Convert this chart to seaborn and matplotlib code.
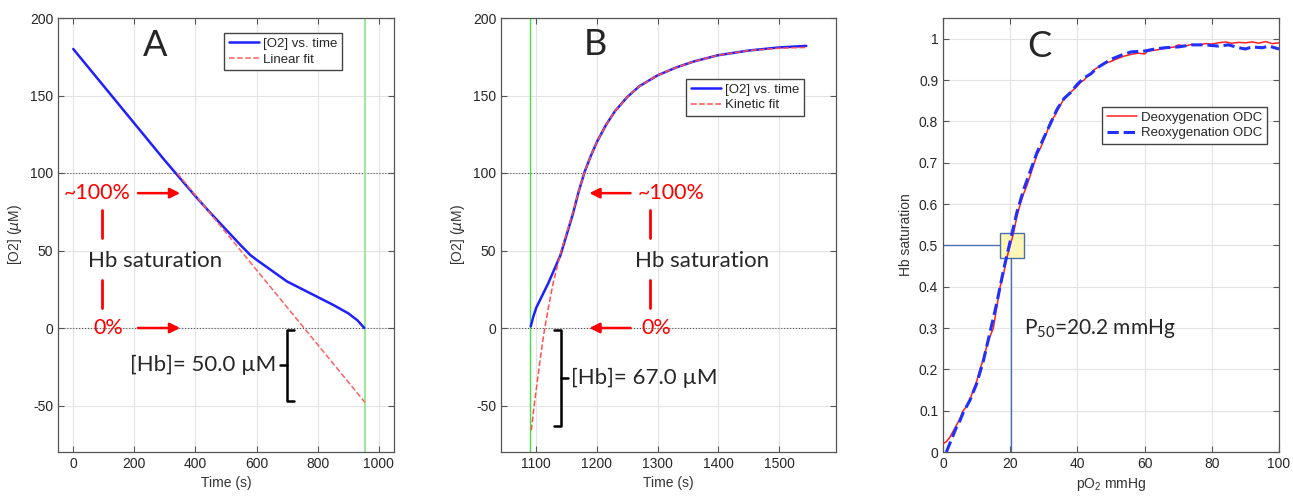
import matplotlib
matplotlib.use('Agg')
import matplotlib.pyplot as plt
from matplotlib.patches import Rectangle
import seaborn as sns

# Panel A: deoxygenation trace and linear fit
a_time = [0, 50, 100, 150, 200, 250, 300, 350, 400, 450, 500, 550, 580, 600,
          650, 700, 750, 800, 850, 900, 930, 953]
a_o2 = [180, 168, 156, 144, 132, 120, 108, 96.5, 85, 74, 63.5, 53, 47, 44,
        37, 30, 25, 20, 15, 9.5, 5, 0]
a_fit_time = [340, 955]
a_fit_o2 = [100, -48]
a_end = 955

# Panel B: reoxygenation trace and kinetic fit
b_time = [1091, 1095, 1100, 1110, 1120, 1130, 1140, 1150, 1160, 1170, 1180,
          1190, 1200, 1215, 1230, 1250, 1270, 1300, 1330, 1360, 1400, 1450,
          1500, 1545]
b_o2 = [1, 7, 13, 21, 29, 38, 47, 60, 73, 88, 101, 111, 120, 131, 140, 149,
        156, 163, 168, 172, 176, 179, 181, 182]
b_fit_time = [1092, 1096, 1100, 1106, 1112, 1120, 1128, 1136, 1142, 1150,
              1160, 1170, 1180, 1190, 1200, 1215, 1230, 1250, 1270, 1300,
              1330, 1360, 1400, 1450, 1500, 1545]
b_fit_o2 = [-66, -52, -40, -22, -5, 13, 29, 42, 51, 61, 74, 88, 101, 111,
            120, 131, 140, 149, 156, 163, 168, 172, 176, 179, 180.5, 181]
b_start = 1090

# Panel C: oxygen dissociation curves
c_deox_po2 = [0, 1, 2, 3, 4, 5, 6, 7, 8, 9, 10, 11, 12, 13, 14, 15, 16, 17,
              18, 19, 20, 21, 22, 23, 24, 25, 26, 27, 28, 29, 30, 31, 32, 33,
              34, 35, 36, 37, 38, 39, 40, 41, 42, 43, 44, 45, 46, 48, 50, 52,
              54, 56, 58, 60, 61, 63, 65, 67, 69, 70, 72, 74, 76, 78, 80, 82,
              84, 86, 88, 90, 92, 94, 96, 98, 100]
c_deox_sat = [0.02, 0.025, 0.035, 0.05, 0.065, 0.08, 0.1, 0.11, 0.125, 0.15,
              0.17, 0.2, 0.225, 0.255, 0.28, 0.3, 0.35, 0.4, 0.43, 0.47, 0.5,
              0.53, 0.57, 0.6, 0.625, 0.645, 0.67, 0.695, 0.72, 0.735, 0.755,
              0.775, 0.8, 0.81, 0.825, 0.84, 0.855, 0.862, 0.87, 0.878, 0.885,
              0.895, 0.9, 0.91, 0.915, 0.925, 0.93, 0.94, 0.945, 0.952, 0.958,
              0.962, 0.965, 0.963, 0.97, 0.972, 0.975, 0.978, 0.98, 0.985,
              0.982, 0.986, 0.984, 0.988, 0.987, 0.99, 0.992, 0.989, 0.991,
              0.99, 0.992, 0.989, 0.993, 0.988, 0.99]
c_reox_po2 = [1, 2, 3, 4, 5, 6, 8, 10, 12, 14, 16, 18, 19, 20, 21, 22, 24, 26,
              28, 30, 32, 34, 36, 38, 40, 42, 44, 46, 48, 50, 53, 56, 60, 63,
              66, 70, 74, 78, 82, 85, 88, 90, 92, 95, 97, 100]
c_reox_sat = [0.0, 0.02, 0.04, 0.06, 0.075, 0.095, 0.125, 0.165, 0.22, 0.29,
              0.36, 0.44, 0.475, 0.51, 0.545, 0.58, 0.635, 0.68, 0.725, 0.76,
              0.795, 0.83, 0.855, 0.87, 0.89, 0.905, 0.915, 0.93, 0.94, 0.95,
              0.96, 0.968, 0.97, 0.975, 0.978, 0.98, 0.985, 0.985, 0.982,
              0.985, 0.978, 0.975, 0.98, 0.978, 0.982, 0.975]
p50 = 20.2

sns.set_style('whitegrid')
plt.rcParams['font.family'] = ['Liberation Sans', 'DejaVu Sans']
plt.rcParams['axes.unicode_minus'] = False
ann_font = ['Lato', 'DejaVu Sans']

fig = plt.figure(figsize=(12.93, 4.96), dpi=100)
W, H = 1293, 496
axA = fig.add_axes([58 / W, 44 / H, 336 / W, 434 / H])
axB = fig.add_axes([501 / W, 44 / H, 335 / W, 434 / H])
axC = fig.add_axes([943 / W, 44 / H, 336 / W, 434 / H])


def style_axes(ax):
    ax.grid(True, color='#e3e3e3', lw=0.8)
    for s in ax.spines.values():
        s.set_color('#555555')
        s.set_linewidth(0.9)
    ax.tick_params(direction='in', length=4, top=True, right=True,
                   color='#555555', labelsize=10, labelcolor='#262626',
                   bottom=True, left=True)
    ax.xaxis.label.set_color('#333333')
    ax.yaxis.label.set_color('#333333')


def style_legend(ax, anchor):
    ax.legend(loc='upper right', bbox_to_anchor=anchor, borderaxespad=0,
              fontsize=9.5, fancybox=False, framealpha=1, edgecolor='#444444',
              handlelength=2.3, borderpad=0.35, labelspacing=0.25,
              handletextpad=0.3)


# ---- Panel A ----
ax = axA
ax.axhline(0, color='#555555', lw=0.8, ls=':', zorder=1)
ax.axhline(100, color='#555555', lw=0.8, ls=':', zorder=1)
ax.axvline(a_end, color='#88e888', lw=1.2, zorder=1)
sns.lineplot(x=a_time, y=a_o2, ax=ax, color='#2020ff', lw=1.8,
             label='[O2] vs. time', estimator=None, zorder=3)
sns.lineplot(x=a_fit_time, y=a_fit_o2, ax=ax, color='#ff6060', lw=1.1,
             ls='--', label='Linear fit', estimator=None, zorder=4)
ax.set_xlim(-50, 1050)
ax.set_ylim(-80, 200)
ax.set_xticks([0, 200, 400, 600, 800, 1000])
ax.set_yticks([-50, 0, 50, 100, 150, 200])
ax.set_xlabel('Time (s)', fontsize=10)
ax.set_ylabel(r'[O2] ($\mu$M)', fontsize=10)
style_axes(ax)
style_legend(ax, (0.845, 0.965))
ax.text(268, 182, 'A', fontsize=26, family=ann_font, ha='center', va='center')
ax.text(77, 87, '~100%', fontsize=15.5, color='red', family=ann_font,
        ha='center', va='center')
ax.text(114, 0, '0%', fontsize=15.5, color='red', family=ann_font,
        ha='center', va='center')
ax.text(268, 43, 'Hb saturation', fontsize=16, family=ann_font,
        ha='center', va='center')
for y in (87, 0):
    ax.annotate('', xy=(359, y), xytext=(203, y),
                arrowprops=dict(arrowstyle='-|>', color='red', lw=1.8,
                                mutation_scale=15))
ax.plot([93, 93], [58, 76], color='red', lw=2)
ax.plot([93, 93], [13, 31], color='red', lw=2)
ax.plot([723, 699, 699, 723], [-1, -1, -47, -47], color='black', lw=1.8)
ax.plot([677, 699], [-24, -24], color='black', lw=1.8)
ax.text(663, -24, '[Hb]= 50.0 \u00b5M', fontsize=16, family=ann_font,
        ha='right', va='center')

# ---- Panel B ----
ax = axB
ax.axhline(0, color='#555555', lw=0.8, ls=':', zorder=1)
ax.axhline(100, color='#555555', lw=0.8, ls=':', zorder=1)
ax.axvline(b_start, color='#44dd44', lw=1.0, zorder=1)
sns.lineplot(x=b_time, y=b_o2, ax=ax, color='#2020ff', lw=1.8,
             label='[O2] vs. time', estimator=None, zorder=3)
sns.lineplot(x=b_fit_time, y=b_fit_o2, ax=ax, color='#ff5050', lw=1.1,
             ls='--', label='Kinetic fit', estimator=None, zorder=4)
ax.set_xlim(1042, 1594)
ax.set_ylim(-80, 200)
ax.set_xticks([1100, 1200, 1300, 1400, 1500])
ax.set_yticks([-50, 0, 50, 100, 150, 200])
ax.set_xlabel('Time (s)', fontsize=10)
ax.set_ylabel(r'[O2] ($\mu$M)', fontsize=10)
style_axes(ax)
style_legend(ax, (0.905, 0.86))
ax.text(1197, 183, 'B', fontsize=26, family=ann_font, ha='center', va='center')
ax.text(1323, 87, '~100%', fontsize=15.5, color='red', family=ann_font,
        ha='center', va='center')
ax.text(1297, 0, '0%', fontsize=15.5, color='red', family=ann_font,
        ha='center', va='center')
ax.text(1373, 43, 'Hb saturation', fontsize=16, family=ann_font,
        ha='center', va='center')
for y in (87, 0):
    ax.annotate('', xy=(1183, y), xytext=(1260, y),
                arrowprops=dict(arrowstyle='-|>', color='red', lw=1.8,
                                mutation_scale=15))
ax.plot([1287, 1287], [58, 76], color='red', lw=2)
ax.plot([1288, 1288], [13, 31], color='red', lw=2)
ax.plot([1129, 1141, 1141, 1129], [-1, -1, -63, -63], color='black', lw=1.8)
ax.plot([1141, 1153], [-32, -32], color='black', lw=1.8)
ax.text(1158, -32, '[Hb]= 67.0 \u00b5M', fontsize=16, family=ann_font,
        ha='left', va='center')

# ---- Panel C ----
ax = axC
ax.add_patch(Rectangle((16.9, 0.47), 7.1, 0.06, facecolor='#fff6b8',
                       edgecolor='#4a6fa5', lw=1.0, zorder=2))
ax.plot([0, 16.9], [0.5, 0.5], color='#4a72b0', lw=1.0, zorder=2)
ax.plot([p50, p50], [0, 0.47], color='#4a72b0', lw=1.0, zorder=2)
sns.lineplot(x=c_deox_po2, y=c_deox_sat, ax=ax, color='#ff2020', lw=1.1,
             label='Deoxygenation ODC', estimator=None, zorder=3)
sns.lineplot(x=c_reox_po2, y=c_reox_sat, ax=ax, color='#2030ff', lw=2.2,
             ls='--', label='Reoxygenation ODC', estimator=None, zorder=4)
ax.set_xlim(0, 100)
ax.set_ylim(0, 1.05)
ax.set_xticks([0, 20, 40, 60, 80, 100])
ax.set_yticks([0, 0.1, 0.2, 0.3, 0.4, 0.5, 0.6, 0.7, 0.8, 0.9, 1])
ax.set_yticklabels(['0', '0.1', '0.2', '0.3', '0.4', '0.5', '0.6', '0.7',
                    '0.8', '0.9', '1'])
ax.set_xlabel(r'pO$_\mathregular{2}$ mmHg', fontsize=10)
ax.set_ylabel('Hb saturation', fontsize=10)
style_axes(ax)
style_legend(ax, (0.965, 0.795))
ax.text(28.8, 0.98, 'C', fontsize=26, family=ann_font, ha='center',
        va='center')
ax.text(24, 0.3, r'P$_\mathregular{50}$=20.2 mmHg', fontsize=15,
        family=ann_font, ha='left', va='center')

fig.savefig('out.png', dpi=100)
